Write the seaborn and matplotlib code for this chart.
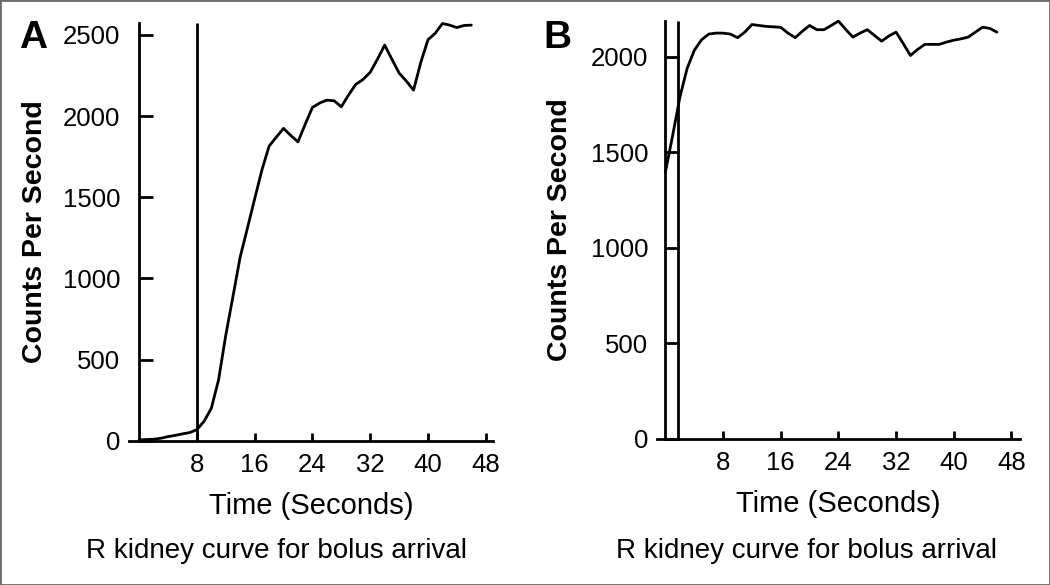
import matplotlib
matplotlib.use("Agg")
import matplotlib.pyplot as plt
import seaborn as sns
import pandas as pd
from matplotlib.patches import Rectangle

sns.set_style("white")
plt.rcParams["font.family"] = ["Liberation Sans", "DejaVu Sans"]
plt.rcParams["text.color"] = "black"
plt.rcParams["axes.labelcolor"] = "black"

# panel A: bolus arrival, marker at 8 s
time_a = list(range(0, 47))
counts_a = [
    5, 7, 9, 15, 25, 33, 42, 50, 68, 120,
    200, 374, 650, 890, 1133, 1310, 1490, 1667, 1815, 1870,
    1924, 1880, 1841, 1950, 2053, 2080, 2098, 2094, 2057, 2130,
    2195, 2225, 2270, 2350, 2437, 2350, 2265, 2215, 2160, 2330,
    2470, 2510, 2570, 2560, 2545, 2558, 2560,
]
marker_a = 8

# panel B: bolus arrival, marker near 1.75 s
time_b = list(range(0, 47))
counts_b = [
    1400, 1590, 1790, 1940, 2035, 2090, 2120, 2125, 2125, 2120,
    2101, 2130, 2170, 2165, 2160, 2158, 2155, 2125, 2101, 2135,
    2165, 2143, 2143, 2165, 2188, 2145, 2104, 2125, 2143, 2113,
    2083, 2110, 2130, 2070, 2008, 2040, 2066, 2066, 2066, 2078,
    2088, 2095, 2104, 2130, 2156, 2150, 2130,
]
marker_b = 1.75

x_ticks = [8, 16, 24, 32, 40, 48]
y_ticks_a = [0, 500, 1000, 1500, 2000, 2500]
y_ticks_b = [0, 500, 1000, 1500, 2000]

caption = "R kidney curve for bolus arrival"

W, H = 1050, 585
fig = plt.figure(figsize=(10.5, 5.85), dpi=100)


def px_axes(left, right, top, bottom):
    return fig.add_axes([left / W, (H - bottom) / H, (right - left) / W, (bottom - top) / H])


def draw_panel(ax, t, c, marker, xlim, ylim, yticks, ypad):
    df = pd.DataFrame({"time": t, "counts": c})
    sns.lineplot(data=df, x="time", y="counts", ax=ax, color="black",
                 linewidth=2.0, clip_on=False)
    ax.vlines(marker, 0, ylim[1], color="black", linewidth=2.0, clip_on=False)
    ax.set_xlim(*xlim)
    ax.set_ylim(*ylim)
    for side in ["top", "right"]:
        ax.spines[side].set_visible(False)
    ax.spines["left"].set_position(("data", 0))
    for side in ["left", "bottom"]:
        ax.spines[side].set_linewidth(2.0)
        ax.spines[side].set_color("black")
    ax.set_xticks(x_ticks)
    ax.set_yticks(yticks)
    ax.tick_params(axis="x", bottom=True, direction="in", length=6, width=2.0, pad=8.5,
                   labelsize=18.5, colors="black")
    ax.tick_params(axis="y", left=True, direction="in", length=10, width=2.0, pad=ypad,
                   labelsize=18.5, colors="black")
    ax.set_xlabel("Time (Seconds)", fontsize=21)
    ax.set_ylabel("Counts Per Second", fontsize=20.5, fontweight="bold")
    ax.xaxis.set_label_coords(0.5, -0.122)
    ax.patch.set_visible(False)


ax_a = px_axes(129, 493, 22.7, 440.7)
draw_panel(ax_a, time_a, counts_a, marker_a, (-1.4, 49), (0, 2575), y_ticks_a, 13.5)
ax_a.yaxis.set_label_coords((48 - 129) / 364, 0.5)

ax_b = px_axes(656.7, 1020, 20.7, 439)
draw_panel(ax_b, time_b, counts_b, marker_b, (-1.22, 49.2), (0, 2190), y_ticks_b, 12.4)
ax_b.yaxis.set_label_coords((573 - 656.7) / 363.3, 0.5)

fig.text(33 / W, 1 - 48 / H, "A", fontsize=28, fontweight="bold", ha="center", va="baseline")
fig.text(557 / W, 1 - 47.5 / H, "B", fontsize=28, fontweight="bold", ha="center", va="baseline")

fig.text(276.5 / W, 1 - 558 / H, caption, fontsize=20, ha="center", va="baseline")
fig.text(806.7 / W, 1 - 558 / H, caption, fontsize=20, ha="center", va="baseline")

fig.patches.append(Rectangle((0, 0), 1, 1, transform=fig.transFigure, fill=False,
                             edgecolor="#6b6b6b", linewidth=2.0))

fig.savefig("out.png", dpi=100)
